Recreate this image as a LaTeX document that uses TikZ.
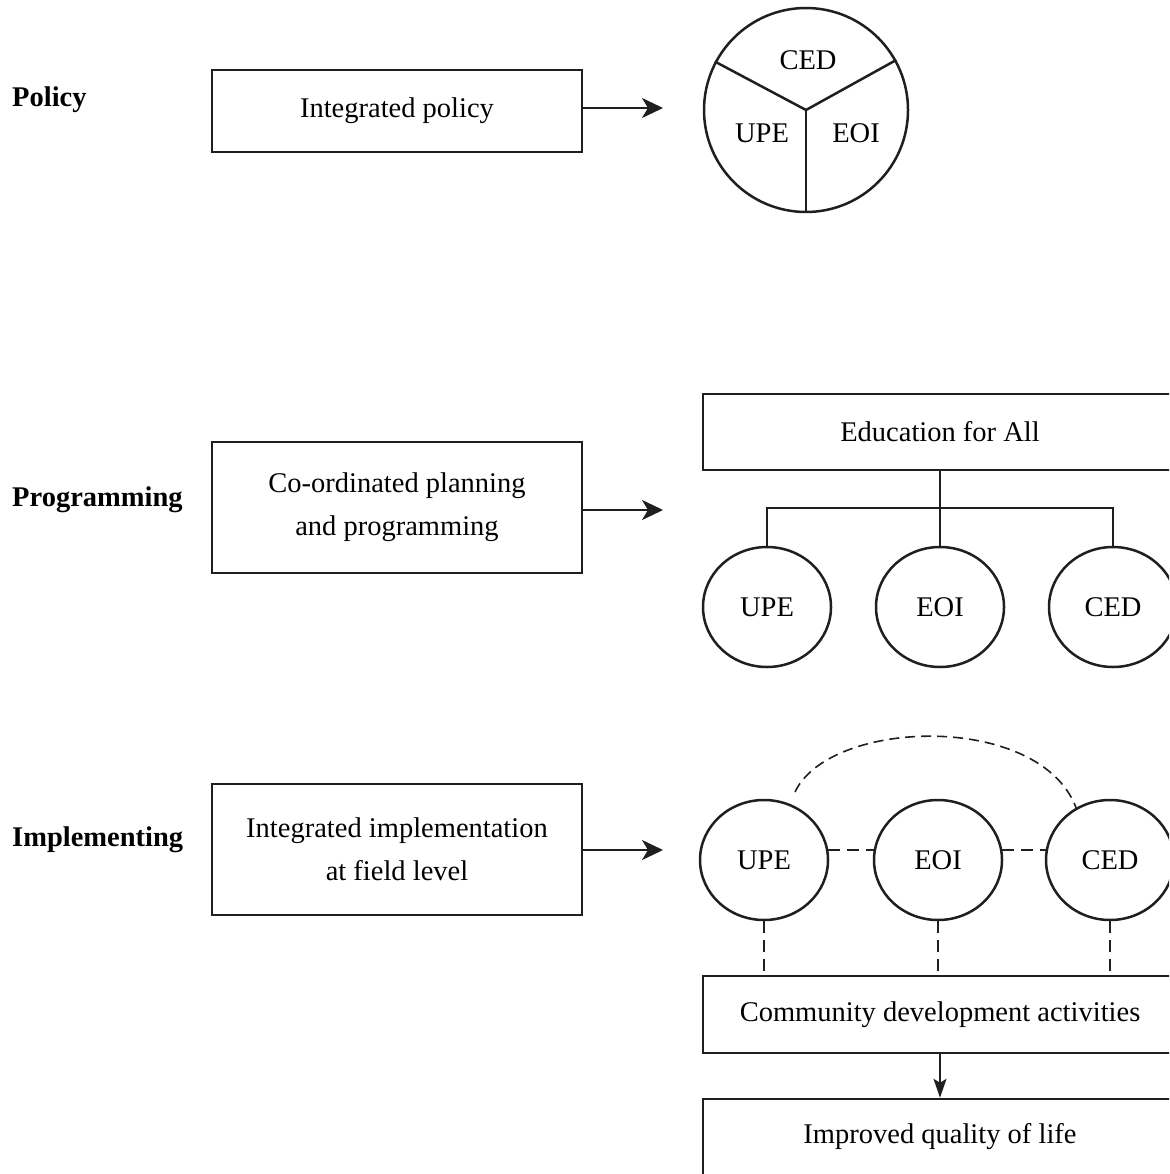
\documentclass[tikz,border=0pt]{standalone}
\usepackage{fontspec}
\setmainfont{Liberation Serif}
\usetikzlibrary{arrows.meta,shapes.geometric}
\begin{document}
\begin{tikzpicture}[x=1pt,y=-1pt,
  every node/.style={font=\fontsize{28.5}{43}\selectfont, text=black},
  ln/.style={line width=2.5pt, draw=black!88},
  boxnode/.style={ln, rectangle, inner sep=0pt, align=center},
  oval/.style={ln, ellipse, minimum width=128pt, minimum height=120pt, inner sep=0pt},
  lbl/.style={font=\fontsize{28.5}{43}\selectfont\bfseries, anchor=west, inner sep=0pt},
  arr/.style={ln, -{Stealth[length=21pt,width=20pt,inset=6pt]}},
  darr/.style={line width=1.8pt, draw=black!88, -{Stealth[length=19pt,width=13pt,inset=4pt]}},
  dsh/.style={ln, dash pattern=on 12pt off 7pt},
  dsharc/.style={line width=1.6pt, draw=black!88, dash pattern=on 10pt off 6pt}]
\useasboundingbox (0,0) rectangle (1169,1174);
\clip (0,0) rectangle (1169,1174);

% left labels
\node[lbl] (lpol) at (12,100) {Policy};
\node[lbl] (lprog) at (12,500) {Programming};
\node[lbl] (limp) at (12,840) {Implementing};

% left boxes
\node[boxnode, minimum width=370pt, minimum height=82pt] (b1) at (397,111) {Integrated policy};
\node[boxnode, minimum width=370pt, minimum height=131pt] (b2) at (397,507.5) {Co-ordinated planning\\and programming};
\node[boxnode, minimum width=370pt, minimum height=131pt] (b3) at (397,849.5) {Integrated implementation\\at field level};

\coordinate (a1) at (663,108);
\coordinate (a2) at (663,510);
\coordinate (a3) at (663,850);
\draw[arr] (b1.east |- a1) -- (a1);
\draw[arr] (b2.east |- a2) -- (a2);
\draw[arr] (b3.east |- a3) -- (a3);

% pie
\node[ln, circle, minimum size=204pt, inner sep=0pt] (pie) at (806,110) {};
\draw[ln] (pie.center) -- (pie.152);
\draw[ln] (pie.center) -- (pie.29);
\draw[ln] (pie.center) -- (pie.270);
\node (pced) at (808,60) {CED};
\node (pupe) at (762,133) {UPE};
\node (peoi) at (856,133) {EOI};

% programming
\node[boxnode, minimum width=474pt, minimum height=76pt] (efa) at (940,432) {Education for All};
\node[oval] (pu) at (767,607) {UPE};
\node[oval] (pe) at (940,607) {EOI};
\node[oval] (pc) at (1113,607) {CED};
\coordinate (j) at (940,508);
\draw[ln] (efa.south) -- (pe.north);
\draw[ln] (pu.north) -- (pu.north |- j) -- (pc.north |- j) -- (pc.north);

% implementing
\node[oval] (iu) at (764,860) {UPE};
\node[oval] (ie) at (938,860) {EOI};
\node[oval] (ic) at (1110,860) {CED};
\draw[dsh] (iu.9) -- (ie.171);
\draw[dsh] (ie.9) -- (ic.171);
\coordinate (arcS) at (795,792);
\draw[dsharc] (arcS) .. controls (830,718) and (1040,712) .. (ic.123);

\node[boxnode, minimum width=474pt, minimum height=77pt] (cda) at (940,1014.5) {Community development activities};
\node[boxnode, minimum width=474pt, minimum height=76pt] (qol) at (940,1137) {Improved quality of life};
\draw[dsh] (iu.south) -- (iu.south |- cda.north);
\draw[dsh] (ie.south) -- (ie.south |- cda.north);
\draw[dsh] (ic.south) -- (ic.south |- cda.north);
\draw[darr] (cda.south) -- (qol.north);
\end{tikzpicture}
\end{document}
